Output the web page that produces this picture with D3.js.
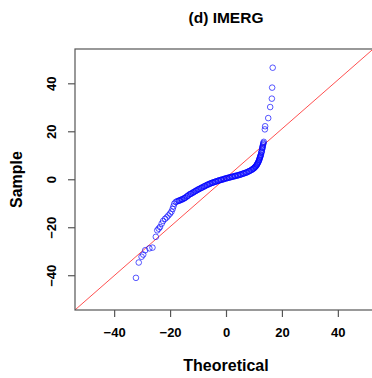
<!DOCTYPE html>
<html>
<head>
<meta charset="utf-8">
<script src="https://cdn.jsdelivr.net/npm/d3@7"></script>
<style>
    body { margin: 0; background: #fff; }
    svg { display: block; font-family: "Liberation Sans", Arial, sans-serif; }
</style>
</head>
<body>
<svg id="chart"></svg>
<script>
// quantile pairs
const theoretical = [
    -32.2, -31.2, -30.2, -29.6, -28.9, -27.4, -26.3, -25.1, -24.6, -24.1,
    -23.6, -23.0, -22.5, -21.8, -21.2, -20.6, -20.0, -19.5, -19.1, -18.8,
    -18.5, -18.0, -17.5, -17.0, -16.75, -16.5, -16.0, -15.75, -15.5, -15.0, -14.75, -14.5, -14.0, -13.75,
    -13.5, -13.0, -12.75, -12.5, -12.0, -11.75, -11.5, -11.0, -10.75, -10.5, -10.0, -9.75, -9.5, -9.0, -8.75,
    -8.5, -8.0, -7.75, -7.5, -7.0, -6.75, -6.5, -6.0, -5.75, -5.5, -5.0, -4.75, -4.5, -4.0, -3.75,
    -3.5, -3.0, -2.75, -2.5, -2.0, -1.75, -1.5, -1.0, -0.75, -0.5, 0.0, 0.25, 0.5, 1.0, 1.25,
    1.5, 2.0, 2.25, 2.5, 3.0, 3.25, 3.5, 4.0, 4.25, 4.5, 5.0, 5.25, 5.5, 6.0, 6.25,
    6.5, 7.0, 7.25, 7.5, 8.0, 8.25, 8.5, 9.0, 9.25, 9.5, 9.75, 10.0, 10.2, 10.4, 10.6, 10.8,
    11.0, 11.1, 11.25, 11.4, 11.55, 11.7, 11.8, 11.9, 12.0, 12.1, 12.2, 12.3, 12.4, 12.5, 12.6, 12.7, 12.8, 12.9,
    13.0, 13.05, 13.1, 13.2, 13.3, 13.4, 13.5, 13.9, 14.0, 15.1, 15.8, 16.4, 16.5, 16.7
]
const sample = [
    -41.1, -34.7, -32.3, -31.4, -29.6, -28.8, -28.5, -24.0, -21.3, -20.6,
    -19.9, -18.5, -17.4, -16.5, -15.9, -15.1, -14.3, -13.5, -12.4, -11.3,
    -10.2, -9.5, -9.2, -9.0, -8.9, -8.8, -8.5, -8.4, -8.3, -8.0, -7.8, -7.6, -7.2, -7.0,
    -6.7, -6.3, -6.15, -6.0, -5.7, -5.5, -5.3, -5.0, -4.8, -4.6, -4.3, -4.15, -4.0, -3.7, -3.55,
    -3.4, -3.1, -2.95, -2.8, -2.5, -2.35, -2.2, -2.0, -1.85, -1.7, -1.5, -1.4, -1.3, -1.1, -1.0,
    -0.9, -0.7, -0.6, -0.5, -0.3, -0.25, -0.2, 0.0, 0.1, 0.2, 0.4, 0.45, 0.5, 0.7, 0.75,
    0.8, 1.0, 1.05, 1.1, 1.3, 1.35, 1.4, 1.6, 1.65, 1.7, 1.9, 2.0, 2.1, 2.3, 2.4,
    2.5, 2.7, 2.8, 2.9, 3.2, 3.35, 3.5, 3.8, 4.0, 4.2, 4.4, 4.6, 4.85, 5.1, 5.35, 5.6,
    6.0, 6.2, 6.5, 6.8, 7.2, 7.5, 7.9, 8.2, 8.6, 8.9, 9.3, 9.6, 10.0, 10.3, 11.0, 11.4, 11.7, 12.4,
    13.0, 13.3, 13.6, 14.2, 14.7, 15.1, 15.6, 20.8, 22.1, 25.5, 30.1, 33.6, 38.2, 46.5
]
const xTicks = [-40, -20, 0, 20, 40]
const yTicks = [-40, -20, 0, 20, 40]
const xDomain = [-54, 54]
const yDomain = [-54.5, 54.3]
// qqline
const lineIntercept = 0.6
const lineSlope = 1.02

const config = {
    width: 372,
    height: 378,
    margin: { top: 49, left: 75 },
    plotWidth: 302,
    plotHeight: 261
}

const svg = d3.select('#chart')
    .attr('width', config.width)
    .attr('height', config.height)

const chart = svg.append('g')
    .attr('transform', `translate(${config.margin.left},${config.margin.top})`)

const xScale = d3.scaleLinear().domain(xDomain).range([0, config.plotWidth])
const yScale = d3.scaleLinear().domain(yDomain).range([config.plotHeight, 0])

chart.append('clipPath')
    .attr('id', 'plot-clip')
    .append('rect')
        .attr('width', config.plotWidth)
        .attr('height', config.plotHeight)

// reference line
chart.append('line')
    .attr('clip-path', 'url(#plot-clip)')
    .attr('x1', xScale(xDomain[0]))
    .attr('y1', yScale(lineIntercept + lineSlope * xDomain[0]))
    .attr('x2', xScale(xDomain[1]))
    .attr('y2', yScale(lineIntercept + lineSlope * xDomain[1]))
    .attr('stroke', '#ff3030')
    .attr('stroke-width', 0.85)

const points = theoretical.map((t, i) => ({ x: t, y: sample[i] }))

chart.selectAll('circle')
    .data(points)
    .join('circle')
        .attr('cx', d => xScale(d.x))
        .attr('cy', d => yScale(d.y))
        .attr('r', 2.8)
        .attr('fill', 'none')
        .attr('stroke', '#0000ff')
        .attr('stroke-width', 1)
        .attr('stroke-opacity', 0.65)

// box
chart.append('rect')
    .attr('width', config.plotWidth)
    .attr('height', config.plotHeight)
    .attr('fill', 'none')
    .attr('stroke', '#555')
    .attr('stroke-width', 1.2)

const xAxis = d3.axisBottom(xScale).tickValues(xTicks).tickSize(7).tickPadding(11)
const yAxis = d3.axisLeft(yScale).tickValues(yTicks).tickSize(7).tickPadding(12)

const xAxisG = chart.append('g')
    .attr('transform', `translate(0,${config.plotHeight})`)
    .call(xAxis)
xAxisG.select('.domain').remove()

const yAxisG = chart.append('g').call(yAxis)
yAxisG.select('.domain').remove()

svg.selectAll('.tick line').attr('stroke', '#555').attr('stroke-width', 1.2)
svg.selectAll('.tick text')
    .attr('fill', '#000')
    .style('font-size', '13px')
    .style('font-weight', 'bold')
    .style('font-family', '"Liberation Sans", Arial, sans-serif')

yAxisG.selectAll('.tick text')
    .attr('x', null).attr('dy', null)
    .attr('text-anchor', 'middle')
    .attr('transform', 'translate(-19.5,0) rotate(-90)')

// title and labels
svg.append('text')
    .attr('x', config.margin.left + xScale(0))
    .attr('y', 22.5)
    .attr('text-anchor', 'middle')
    .style('font-size', '15.5px')
    .style('font-weight', 'bold')
    .text('(d) IMERG')

svg.append('text')
    .attr('x', config.margin.left + xScale(0))
    .attr('y', 371)
    .attr('text-anchor', 'middle')
    .style('font-size', '16px')
    .style('font-weight', 'bold')
    .text('Theoretical')

svg.append('text')
    .attr('transform', `translate(22,${config.margin.top + config.plotHeight / 2}) rotate(-90)`)
    .attr('text-anchor', 'middle')
    .style('font-size', '16px')
    .style('font-weight', 'bold')
    .text('Sample')
</script>
</body>
</html>
